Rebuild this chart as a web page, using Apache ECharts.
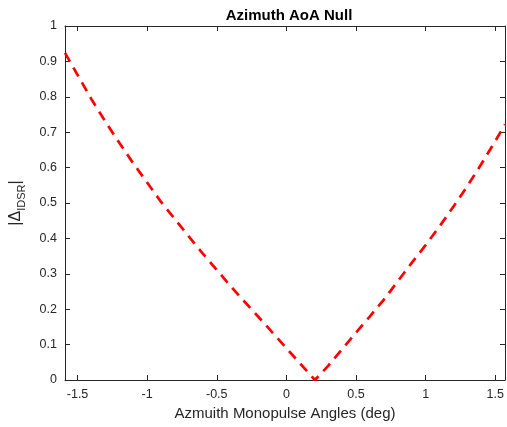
<!DOCTYPE html>
<html>
<head>
<meta charset="utf-8">
<script src="https://cdn.jsdelivr.net/npm/echarts@6/dist/echarts.min.js"></script>
<style>html,body{margin:0;padding:0;background:#fff;}#c{width:507px;height:427px;}</style>
</head>
<body>
<div id="c"></div>
<script>
const titleText = 'Azimuth AoA Null';
const xName = 'Azmuith Monopulse Angles (deg)';
const xMin = -1.59;
const xMax = 1.57;
const xTicks = [-1.5, -1, -0.5, 0, 0.5, 1, 1.5];
const yTicks = [0, 0.1, 0.2, 0.3, 0.4, 0.5, 0.6, 0.7, 0.8, 0.9, 1];
const angles = [-1.59, -1.50, -1.40, -1.30, -1.20, -1.10, -1.00, -0.90, -0.80, -0.70, -0.60, -0.50, -0.40, -0.30, -0.20, -0.10, 0.00, 0.10, 0.205, 0.30, 0.40, 0.50, 0.60, 0.70, 0.80, 0.90, 1.00, 1.10, 1.20, 1.30, 1.40, 1.50, 1.57];
const deltaIDSR = [0.924, 0.862, 0.793, 0.730, 0.670, 0.612, 0.558, 0.503, 0.454, 0.405, 0.357, 0.311, 0.265, 0.221, 0.178, 0.134, 0.090, 0.046, 0.0, 0.040, 0.087, 0.134, 0.180, 0.227, 0.279, 0.331, 0.381, 0.434, 0.490, 0.548, 0.610, 0.675, 0.722];

const axisColor = '#262626';
const font = 'Liberation Sans, Arial, Helvetica, sans-serif';
const seriesData = angles.map((a, i) => [a, deltaIDSR[i]]);

const chart = echarts.init(document.getElementById('c'), null, {renderer: 'canvas'});
const baseAxis = {
  type: 'value',
  axisLine: {show: true, onZero: false, lineStyle: {color: axisColor, width: 1}},
  splitLine: {show: false},
};
chart.setOption({
  animation: false,
  backgroundColor: '#fff',
  title: {
    text: titleText, left: 284, top: 3, textAlign: 'center',
    textStyle: {fontFamily: font, fontSize: 15, fontWeight: 'bold', color: '#000'}
  },
  grid: {left: 61, right: 2, top: 26, bottom: 47, containLabel: false},
  xAxis: [
    Object.assign({}, baseAxis, {
      min: xMin, max: xMax, position: 'bottom',
      axisTick: {show: true, inside: true, length: 5, customValues: xTicks, lineStyle: {color: axisColor}},
      axisLabel: {show: true, customValues: xTicks, color: axisColor, fontFamily: font, fontSize: 12.5, margin: 8},
      name: xName, nameLocation: 'middle', nameGap: 26,
      nameTextStyle: {fontFamily: font, fontSize: 15, color: axisColor}
    }),
    Object.assign({}, baseAxis, {
      min: xMin, max: xMax, position: 'top',
      axisTick: {show: true, inside: true, length: 5, customValues: xTicks, lineStyle: {color: axisColor}},
      axisLabel: {show: false}
    })
  ],
  yAxis: [
    Object.assign({}, baseAxis, {
      min: 0, max: 1, interval: 0.1, position: 'left',
      axisTick: {show: true, inside: true, length: 5, lineStyle: {color: axisColor}},
      axisLabel: {show: true, color: axisColor, fontFamily: font, fontSize: 12.5, margin: 8},
      name: '{a||Δ}{b|IDSR}{a||}', nameLocation: 'middle', nameGap: 38, nameRotate: 90,
      nameTextStyle: {
        color: axisColor, fontFamily: font,
        rich: {
          a: {fontFamily: font, fontSize: 16, color: axisColor, lineHeight: 22, verticalAlign: 'middle'},
          b: {fontFamily: font, fontSize: 11, color: axisColor, lineHeight: 12, verticalAlign: 'bottom'}
        }
      }
    }),
    Object.assign({}, baseAxis, {
      min: 0, max: 1, interval: 0.1, position: 'right',
      axisTick: {show: true, inside: true, length: 5, lineStyle: {color: axisColor}},
      axisLabel: {show: false}
    })
  ],
  series: [{
    type: 'line', xAxisIndex: 0, yAxisIndex: 0,
    data: seriesData, showSymbol: false, smooth: false,
    lineStyle: {color: '#ff0000', width: 2.7, type: [10, 7]}
  }]
});
</script>
</body>
</html>
